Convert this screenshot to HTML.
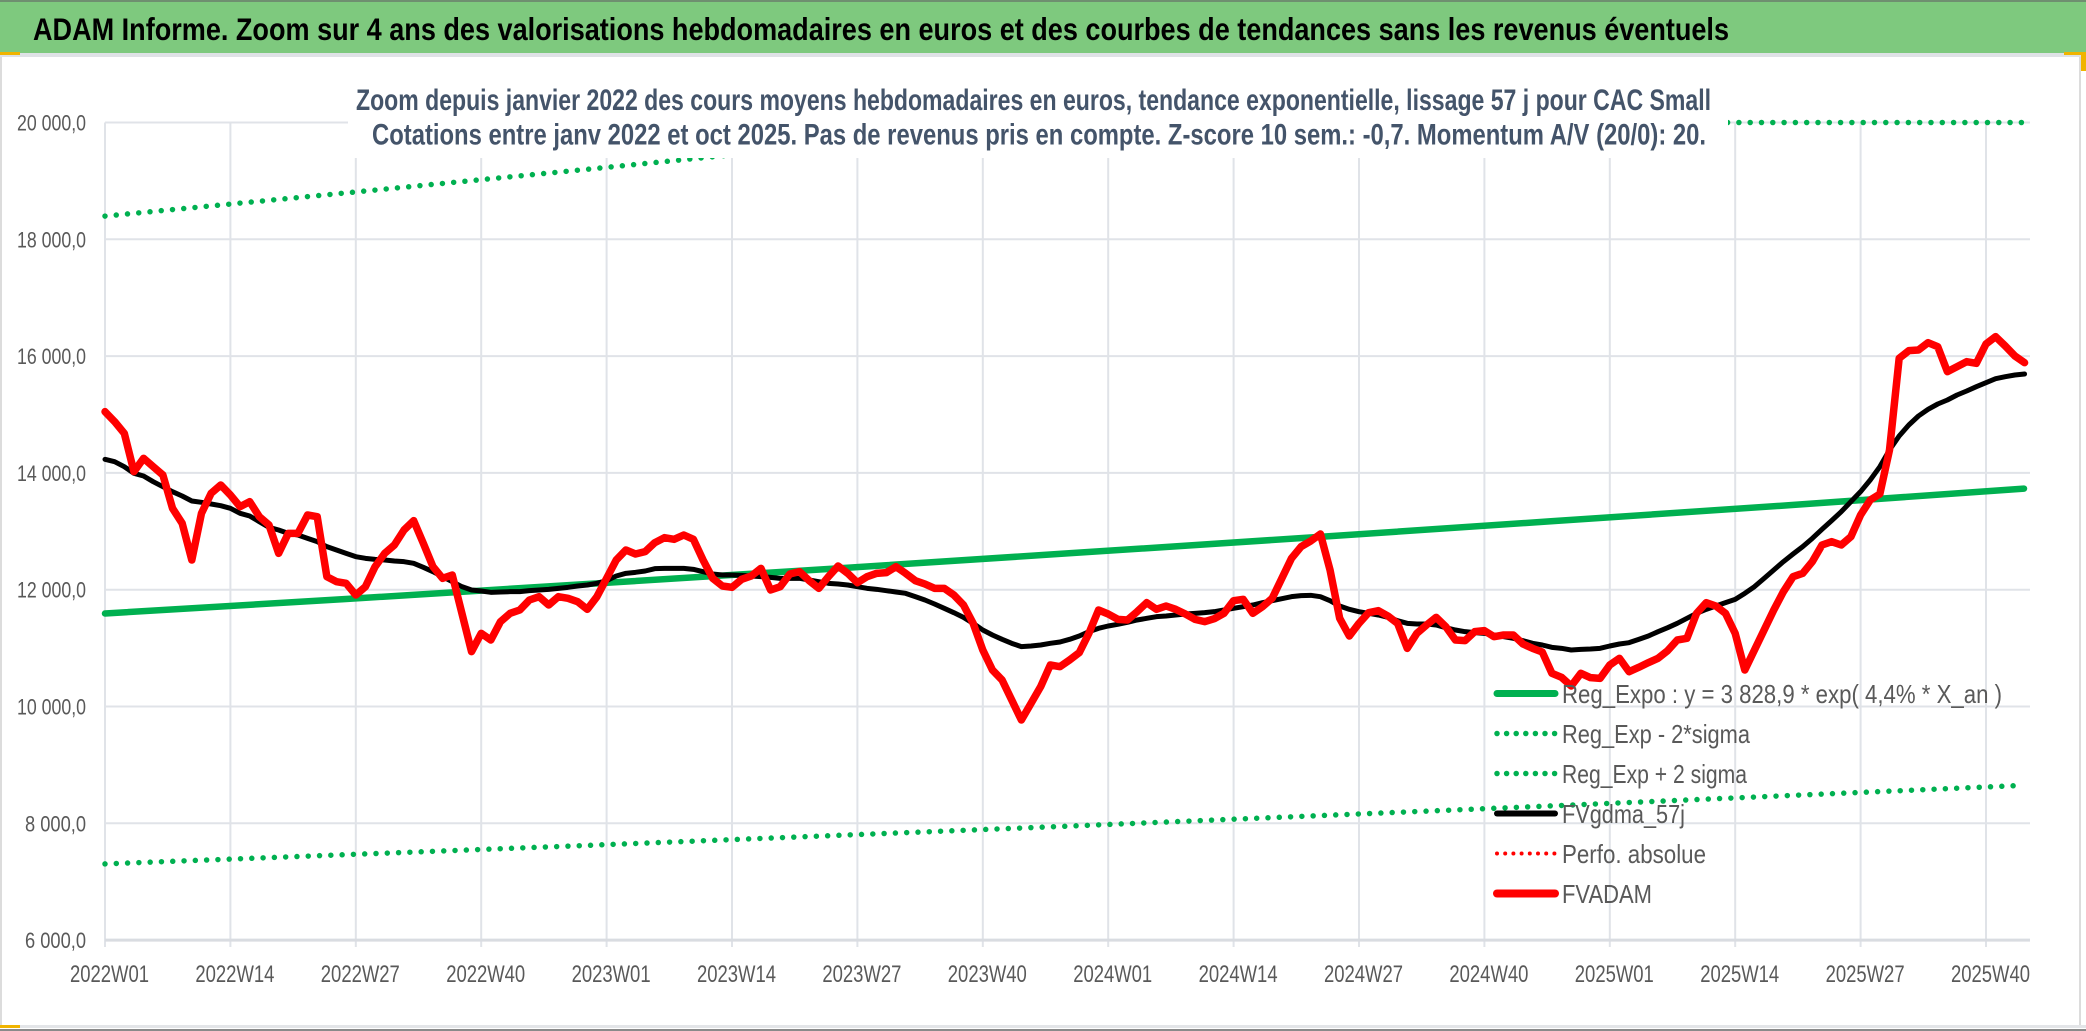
<!DOCTYPE html>
<html>
<head>
<meta charset="utf-8">
<style>
html,body{margin:0;padding:0;background:#fff;}
body{width:2086px;height:1031px;overflow:hidden;}
svg{display:block;}
text{font-family:"Liberation Sans", sans-serif;}
</style>
</head>
<body>
<svg width="2086" height="1031" viewBox="0 0 2086 1031" xmlns="http://www.w3.org/2000/svg">
  <rect x="0" y="0" width="2086" height="1031" fill="#ffffff"/>
  <!-- title bar -->
  <rect x="0" y="0" width="2086" height="53" fill="#7ec97e"/>
  <rect x="0" y="0" width="2086" height="2" fill="#6f8f70"/>
  <rect x="0" y="53" width="2086" height="4" fill="#dfe2e6"/>
  <text x="33" y="40" font-size="31.5" font-weight="bold" fill="#000" textLength="1696" lengthAdjust="spacingAndGlyphs">ADAM Informe. Zoom sur 4 ans des valorisations hebdomadaires en euros et des courbes de tendances sans les revenus éventuels</text>

  <!-- outer borders -->
  <rect x="0" y="57" width="2" height="970" fill="#dcdcdc"/>
  <rect x="2079" y="57" width="2" height="970" fill="#dcdcdc"/>
  <rect x="0" y="1025" width="2086" height="3" fill="#e3e5e8"/>
  <rect x="0" y="1029" width="2086" height="2" fill="#8a8a8a"/>
  <!-- selection handles -->
  <rect x="0" y="52" width="20" height="3" fill="#f0b400"/>
  <rect x="2064" y="52" width="22" height="3" fill="#f0b400"/>
  <rect x="2081" y="53" width="5" height="18" fill="#f0b400"/>
  <rect x="0" y="1025" width="20" height="3" fill="#f0b400"/>

  <!-- horizontal gridlines -->
  <g stroke="#e0e3e8" stroke-width="2">
    <line x1="105" y1="122.5" x2="2030" y2="122.5"/>
    <line x1="105" y1="239.3" x2="2030" y2="239.3"/>
    <line x1="105" y1="356.1" x2="2030" y2="356.1"/>
    <line x1="105" y1="472.9" x2="2030" y2="472.9"/>
    <line x1="105" y1="589.7" x2="2030" y2="589.7"/>
    <line x1="105" y1="706.5" x2="2030" y2="706.5"/>
    <line x1="105" y1="823.3" x2="2030" y2="823.3"/>
  </g>
  <!-- vertical gridlines + ticks -->
  <g stroke="#e0e3e8" stroke-width="2">
    <line x1="105" y1="122.5" x2="105" y2="947"/>
    <line x1="230.4" y1="122.5" x2="230.4" y2="947"/>
    <line x1="355.8" y1="122.5" x2="355.8" y2="947"/>
    <line x1="481.2" y1="122.5" x2="481.2" y2="947"/>
    <line x1="606.6" y1="122.5" x2="606.6" y2="947"/>
    <line x1="732" y1="122.5" x2="732" y2="947"/>
    <line x1="857.4" y1="122.5" x2="857.4" y2="947"/>
    <line x1="982.8" y1="122.5" x2="982.8" y2="947"/>
    <line x1="1108.2" y1="122.5" x2="1108.2" y2="947"/>
    <line x1="1233.6" y1="122.5" x2="1233.6" y2="947"/>
    <line x1="1359" y1="122.5" x2="1359" y2="947"/>
    <line x1="1484.4" y1="122.5" x2="1484.4" y2="947"/>
    <line x1="1609.8" y1="122.5" x2="1609.8" y2="947"/>
    <line x1="1735.2" y1="122.5" x2="1735.2" y2="947"/>
    <line x1="1860.6" y1="122.5" x2="1860.6" y2="947"/>
    <line x1="1986" y1="122.5" x2="1986" y2="947"/>
  </g>
  <line x1="105" y1="940.1" x2="2030" y2="940.1" stroke="#d9dce1" stroke-width="3"/>

  <!-- y labels -->
  <g font-size="22" fill="#595959">
    <text x="17" y="130.5" textLength="69" lengthAdjust="spacingAndGlyphs">20 000,0</text>
    <text x="17" y="247.3" textLength="69" lengthAdjust="spacingAndGlyphs">18 000,0</text>
    <text x="17" y="364.1" textLength="69" lengthAdjust="spacingAndGlyphs">16 000,0</text>
    <text x="17" y="480.9" textLength="69" lengthAdjust="spacingAndGlyphs">14 000,0</text>
    <text x="17" y="597.7" textLength="69" lengthAdjust="spacingAndGlyphs">12 000,0</text>
    <text x="17" y="714.5" textLength="69" lengthAdjust="spacingAndGlyphs">10 000,0</text>
    <text x="25" y="831.3" textLength="61" lengthAdjust="spacingAndGlyphs">8 000,0</text>
    <text x="25" y="948.1" textLength="61" lengthAdjust="spacingAndGlyphs">6 000,0</text>
  </g>

  <!-- x labels -->
  <g font-size="24" fill="#595959">
    <text x="70" y="982" textLength="79" lengthAdjust="spacingAndGlyphs">2022W01</text>
    <text x="195.4" y="982" textLength="79" lengthAdjust="spacingAndGlyphs">2022W14</text>
    <text x="320.8" y="982" textLength="79" lengthAdjust="spacingAndGlyphs">2022W27</text>
    <text x="446.2" y="982" textLength="79" lengthAdjust="spacingAndGlyphs">2022W40</text>
    <text x="571.6" y="982" textLength="79" lengthAdjust="spacingAndGlyphs">2023W01</text>
    <text x="697" y="982" textLength="79" lengthAdjust="spacingAndGlyphs">2023W14</text>
    <text x="822.4" y="982" textLength="79" lengthAdjust="spacingAndGlyphs">2023W27</text>
    <text x="947.8" y="982" textLength="79" lengthAdjust="spacingAndGlyphs">2023W40</text>
    <text x="1073.2" y="982" textLength="79" lengthAdjust="spacingAndGlyphs">2024W01</text>
    <text x="1198.6" y="982" textLength="79" lengthAdjust="spacingAndGlyphs">2024W14</text>
    <text x="1324" y="982" textLength="79" lengthAdjust="spacingAndGlyphs">2024W27</text>
    <text x="1449.4" y="982" textLength="79" lengthAdjust="spacingAndGlyphs">2024W40</text>
    <text x="1574.8" y="982" textLength="79" lengthAdjust="spacingAndGlyphs">2025W01</text>
    <text x="1700.2" y="982" textLength="79" lengthAdjust="spacingAndGlyphs">2025W14</text>
    <text x="1825.6" y="982" textLength="79" lengthAdjust="spacingAndGlyphs">2025W27</text>
    <text x="1951" y="982" textLength="79" lengthAdjust="spacingAndGlyphs">2025W40</text>
  </g>

  <!-- Reg_Expo (green solid) -->
  <polyline fill="none" stroke="#00b050" stroke-width="6.5" stroke-linecap="round" stroke-linejoin="round"
    points="105,613.5 346,599 587,584 828,569 1069,553.3 1310,537.5 1551,521.3 1792,505 2024,488.6"/>
  <!-- lower band -->
  <polyline fill="none" stroke="#00b050" stroke-width="5.5" stroke-linecap="round" stroke-dasharray="0 11.3"
    points="105,863.9 587,845.4 1069,826.1 1551,805.9 2024,785.3"/>
  <!-- upper band -->
  <polyline fill="none" stroke="#00b050" stroke-width="5.5" stroke-linecap="round" stroke-dasharray="0 11.3"
    points="105,216.1 346,192.9 587,169.3 828,145.3 1054,122.5 2024,122.5"/>

  <!-- FVgdma_57j (black) -->
  <polyline fill="none" stroke="#000" stroke-width="5" stroke-linejoin="round" stroke-linecap="round" vector-effect="non-scaling-stroke"
    transform="matrix(9.646 0 0 0.333333 105 330)"
    points="0,388 1,395 2,410 3,430 4,438 5,455 6,470 7,485 8,498 9,513 10,517 11,522 12,527 13,535 14,550 15,558 16,575 17,592 18,600 19,610 20,615 21,625 22,635 23,650 24,660 25,670 26,680 27,685 28,688 29,690 30,693 31,695 32,700 33,712 34,725 35,740 36,755 37,770 38,780 39,783 40,787 41,786 42,785 43,785 44,782 45,780 46,778 47,775 48,772 49,768 50,765 51,760 52,752 53,738 54,730 55,727 56,723 57,716 58,715 59,715 60,715 61,718 62,725 63,732 64,735 65,735 66,736 67,738 68,740 69,742 70,745 71,745 72,745 73,750 74,755 75,760 76,762 77,765 78,770 79,775 80,778 81,782 82,786 83,790 84,800 85,810 86,822 87,835 88,848 89,862 90,880 91,900 92,915 93,928 94,940 95,950 96,948 97,945 98,940 99,936 100,928 101,918 102,905 103,895 104,888 105,883 106,877 107,870 108,865 109,860 110,858 111,855 112,852 113,850 114,848 115,845 116,840 117,835 118,830 119,825 120,818 121,812 122,806 123,800 124,797 125,796 126,800 127,812 128,828 129,838 130,845 131,850 132,855 133,862 134,872 135,880 136,882 137,882 138,885 139,893 140,900 141,905 142,908 143,910 144,915 145,920 146,925 147,932 148,940 149,945 150,952 151,955 152,960 153,958 154,957 155,955 156,948 157,942 158,938 159,928 160,918 161,905 162,893 163,880 164,865 165,850 166,838 167,828 168,818 169,808 170,790 171,770 172,745 173,720 174,695 175,672 176,650 177,625 178,598 179,572 180,545 181,515 182,485 183,450 184,410 185,360 186,318 187,285 188,258 189,238 190,222 191,210 192,195 193,183 194,170 195,158 196,146 197,140 198,135 199,132"/>

  <!-- FVADAM (red) -->
  <polyline fill="none" stroke="#ff0000" stroke-width="7.5" stroke-linejoin="round" stroke-linecap="round" vector-effect="non-scaling-stroke"
    transform="matrix(9.646 0 0 0.333333 105 330)"
    points="0,245 1,275 2,310 3,425 4,385 5,410 6,435 7,535 8,580 9,690 10,550 11,490 12,465 13,495 14,530 15,515 16,560 17,585 18,670 19,610 20,610 21,555 22,560 23,740 24,755 25,760 26,795 27,770 28,710 29,670 30,645 31,600 32,572 33,640 34,710 35,745 36,735 37,850 38,965 39,910 40,930 41,875 42,850 43,840 44,810 45,800 46,825 47,800 48,805 49,815 50,838 51,800 52,745 53,690 54,660 55,672 56,665 57,638 58,623 59,628 60,615 61,628 62,690 63,745 64,768 65,772 66,748 67,738 68,715 69,780 70,770 71,732 72,725 73,752 74,775 75,740 76,708 77,730 78,758 79,740 80,730 81,728 82,710 83,730 84,752 85,762 86,775 87,775 88,795 89,825 90,880 91,960 92,1020 93,1050 94,1110 95,1170 96,1120 97,1070 98,1005 99,1010 100,990 101,968 102,910 103,840 104,852 105,868 106,870 107,845 108,818 109,838 110,828 111,838 112,852 113,868 114,875 115,866 116,850 117,812 118,808 119,850 120,830 121,805 122,745 123,685 124,650 125,633 126,612 127,720 128,865 129,918 130,880 131,848 132,842 133,858 134,880 135,955 136,910 137,885 138,862 139,890 140,930 141,932 142,905 143,902 144,920 145,915 146,915 147,942 148,955 149,966 150,1030 151,1042 152,1068 153,1030 154,1043 155,1045 156,1005 157,985 158,1025 159,1012 160,998 161,985 162,962 163,930 164,925 165,850 166,818 167,828 168,850 169,910 170,1020 171,960 172,900 173,840 174,785 175,740 176,730 177,695 178,645 179,635 180,645 181,620 182,555 183,510 184,492 185,360 186,85 187,62 188,60 189,38 190,50 191,125 192,110 193,95 194,100 195,42 196,20 197,48 198,78 199,98"/>

  <!-- subtitle box -->
  <rect x="348" y="57" width="1380" height="101" fill="#ffffff"/>
  <g font-size="29.5" font-weight="bold" fill="#44546a">
    <text x="356" y="110" textLength="1355" lengthAdjust="spacingAndGlyphs">Zoom depuis janvier 2022 des cours moyens hebdomadaires en euros, tendance exponentielle, lissage 57 j pour CAC Small</text>
    <text x="372" y="144.5" textLength="1334" lengthAdjust="spacingAndGlyphs">Cotations entre janv 2022 et oct 2025. Pas de revenus pris en compte. Z-score 10 sem.: -0,7. Momentum A/V (20/0): 20.</text>
  </g>

  <!-- legend -->
  <line x1="1497" y1="693.5" x2="1555" y2="693.5" stroke="#00b050" stroke-width="7" stroke-linecap="round"/>
  <line x1="1497" y1="733.5" x2="1555" y2="733.5" stroke="#00b050" stroke-width="5.5" stroke-linecap="round" stroke-dasharray="0 9.6"/>
  <line x1="1497" y1="773.5" x2="1555" y2="773.5" stroke="#00b050" stroke-width="5.5" stroke-linecap="round" stroke-dasharray="0 9.6"/>
  <line x1="1497" y1="813.5" x2="1555" y2="813.5" stroke="#000000" stroke-width="6" stroke-linecap="round"/>
  <line x1="1497" y1="853.5" x2="1555" y2="853.5" stroke="#ff0000" stroke-width="4" stroke-linecap="round" stroke-dasharray="0 8.2"/>
  <line x1="1497" y1="893.5" x2="1555" y2="893.5" stroke="#ff0000" stroke-width="8" stroke-linecap="round"/>
  <g font-size="26" fill="#595959">
    <text x="1562" y="703" textLength="440" lengthAdjust="spacingAndGlyphs">Reg_Expo : y = 3 828,9 * exp( 4,4% *  X_an )</text>
    <text x="1562" y="743" textLength="188" lengthAdjust="spacingAndGlyphs">Reg_Exp - 2*sigma</text>
    <text x="1562" y="783" textLength="185" lengthAdjust="spacingAndGlyphs">Reg_Exp + 2 sigma</text>
    <text x="1562" y="823" textLength="123" lengthAdjust="spacingAndGlyphs">FVgdma_57j</text>
    <text x="1562" y="863" textLength="144" lengthAdjust="spacingAndGlyphs">Perfo. absolue</text>
    <text x="1562" y="903" textLength="90" lengthAdjust="spacingAndGlyphs">FVADAM</text>
  </g>
</svg>
</body>
</html>
